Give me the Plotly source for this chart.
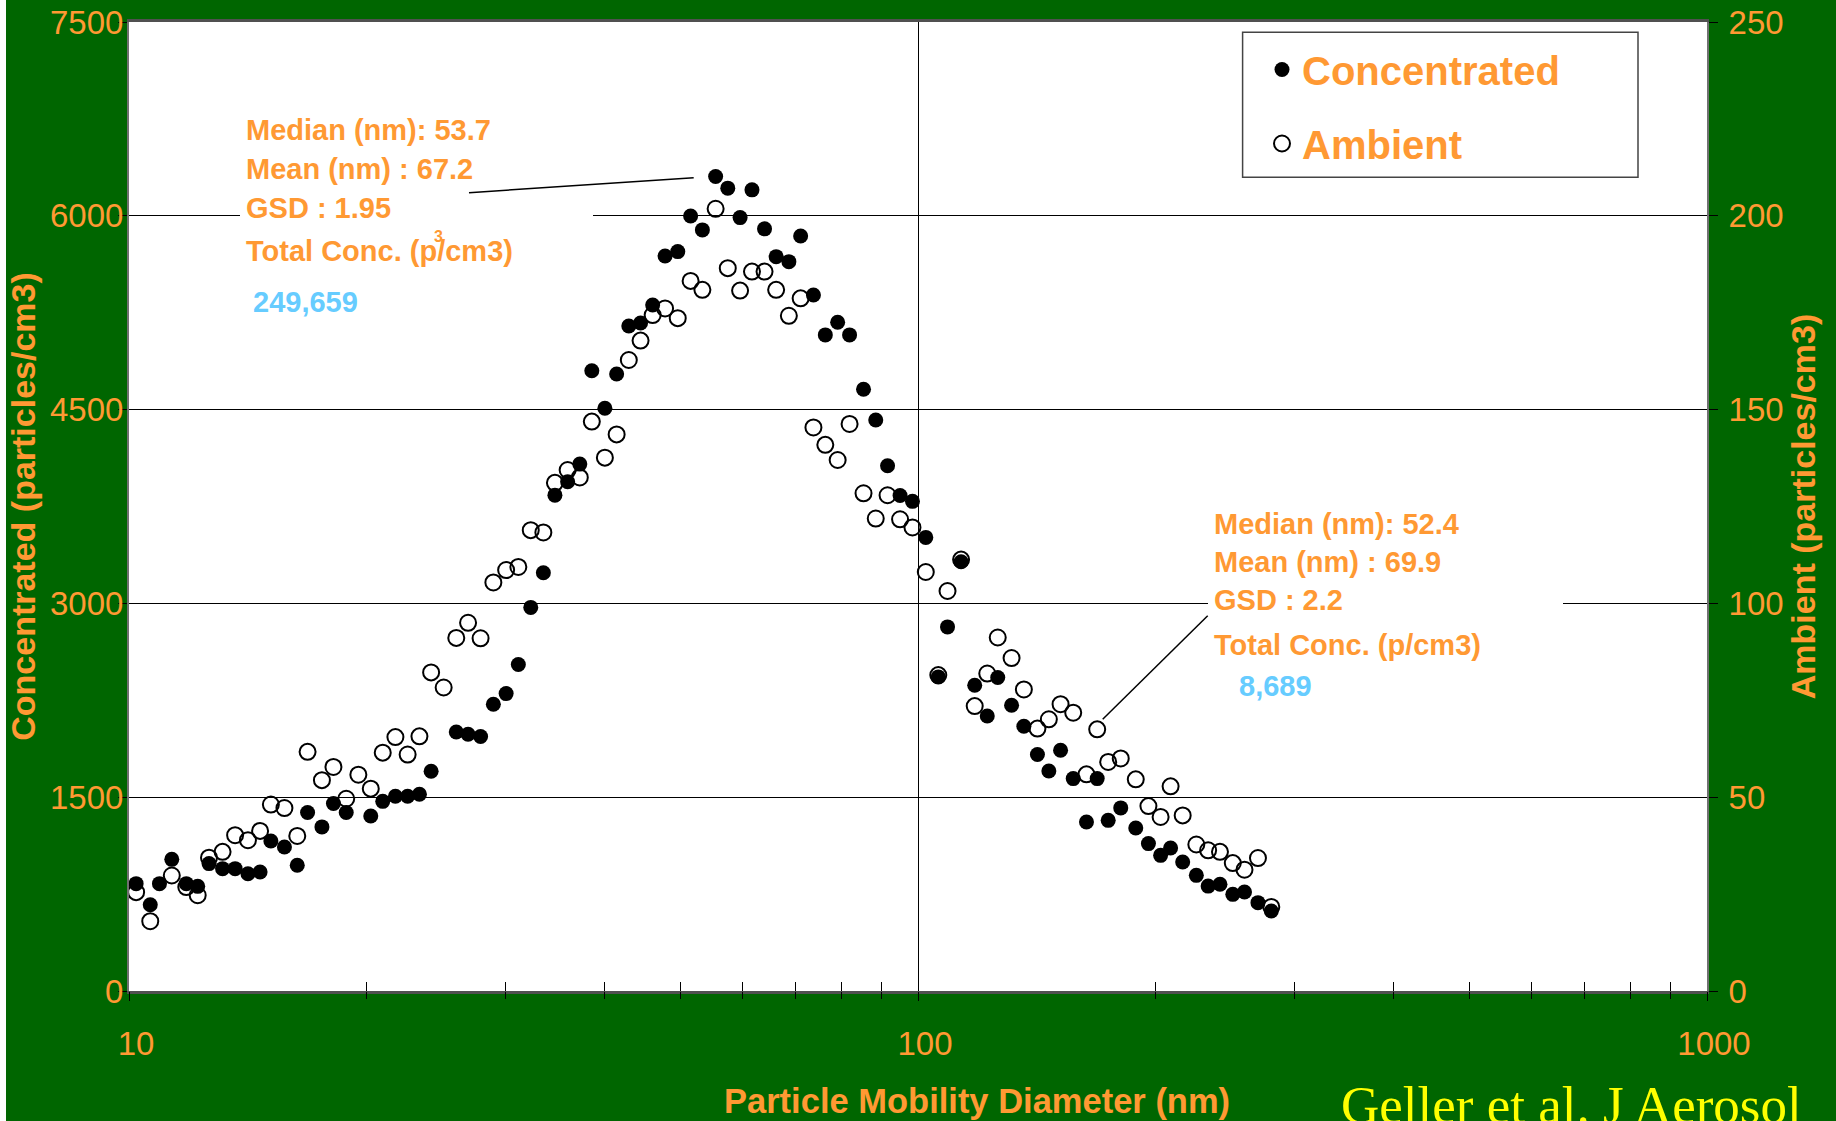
import plotly.graph_objects as go

# ---------------- data ----------------
conc_diam = [10.21, 10.64, 10.93, 11.33, 11.82, 12.22, 12.63, 13.14, 13.63, 14.15,
             14.66, 15.13, 15.74, 16.34, 16.84, 17.56, 18.16, 18.85, 20.25, 20.97,
             21.76, 22.55, 23.34, 24.15, 25.99, 26.9, 27.9, 28.96, 30.06, 31.15,
             32.3, 33.51, 34.66, 35.97, 37.27, 38.6, 40.1, 41.5, 43.0, 44.5,
             46.1, 47.8, 49.6, 51.5, 53.3, 55.4, 57.4, 59.5, 61.6, 63.9,
             66.1, 68.6, 71.0, 73.7, 76.3, 79.1, 81.9, 85.3, 88.4, 91.5,
             94.9, 98.4, 102.3, 106.1, 109.0, 113.4, 118.0, 122.4, 126.2, 131.4,
             136.2, 141.7, 146.5, 151.6, 157.3, 163.5, 168.7, 174.2, 180.7, 188.8,
             195.9, 203.0, 209.0, 216.5, 225.3, 233.2, 241.4, 250.6, 259.3, 269.7,
             280.4]
conc_vals = [831, 668, 831, 1019, 831, 810, 986, 947, 947, 908,
             921, 1161, 1115, 973, 1381, 1270, 1451, 1381, 1355, 1468,
             1507, 1507, 1523, 1701, 2005, 1987, 1970, 2220, 2302, 2527,
             2969, 3237, 3838, 3942, 4078, 4801, 4510, 4776, 5147, 5170,
             5310, 5689, 5723, 5999, 5891, 6304, 6214, 5986, 6201, 5899,
             5684, 5645, 5844, 5387, 5078, 5176, 5078, 4657, 4419, 4065,
             3835, 3790, 3511, 2431, 2818, 3322, 2367, 2129, 2426, 2212,
             2049, 1830, 1703, 1863, 1644, 1308, 1644, 1321, 1417, 1262,
             1141, 1050, 1107, 998, 895, 812, 826, 748, 766, 684,
             619]

amb_diam = [10.21, 10.64, 11.33, 11.82, 12.22, 12.63, 13.14, 13.63, 14.15, 14.66,
            15.13, 15.74, 16.34, 16.84, 17.56, 18.16, 18.85, 19.53, 20.25, 20.97,
            21.76, 22.55, 23.34, 24.15, 25.05, 25.99, 26.9, 27.9, 28.96, 30.06,
            31.15, 32.3, 33.51, 34.66, 35.97, 37.27, 38.6, 40.1, 41.5, 43.0,
            44.5, 46.1, 47.8, 49.6, 51.5, 53.3, 55.4, 57.4, 59.5, 61.6,
            63.9, 66.1, 68.6, 71.0, 73.7, 76.3, 79.1, 81.9, 85.3, 88.4,
            91.5, 94.9, 98.4, 102.3, 106.1, 109.0, 113.4, 118.0, 122.4, 126.2,
            131.4, 136.2, 141.7, 146.5, 151.6, 157.3, 163.5, 168.7, 174.2, 180.7,
            188.8, 195.9, 203.0, 209.0, 216.5, 225.3, 233.2, 241.4, 250.6, 259.3,
            269.7, 280.4]
amb_vals = [25.5, 18.0, 29.8, 26.8, 24.7, 34.4, 35.9, 40.2, 38.9, 41.3,
            48.1, 47.2, 40.0, 61.7, 54.4, 57.8, 49.6, 55.8, 52.2, 61.5,
            65.5, 61.0, 65.7, 82.2, 78.3, 91.1, 95.0, 91.0, 105.4, 108.6,
            109.4, 118.9, 118.3, 131.1, 134.4, 132.5, 146.9, 137.6, 143.6, 162.8,
            167.8, 174.4, 176.1, 173.6, 183.2, 180.9, 201.8, 186.5, 180.7, 185.6,
            185.6, 180.9, 174.2, 178.7, 145.4, 140.9, 137.0, 146.3, 128.4, 121.9,
            127.9, 121.7, 119.6, 108.1, 81.5, 103.2, 111.3, 73.5, 81.9, 91.2,
            85.9, 77.8, 67.7, 70.1, 74.0, 71.8, 55.9, 67.5, 59.1, 60.0,
            54.6, 47.7, 44.9, 52.8, 45.3, 37.8, 36.3, 35.9, 33.0, 31.3,
            34.3, 21.7]

x_tick_vals = [10, 100, 1000]
x_tick_text = ["10", "100", "1000"]
x_minor_vals = [20, 30, 40, 50, 60, 70, 80, 90, 200, 300, 400, 500, 600, 700, 800, 900]
conc_ticks = [0, 1500, 3000, 4500, 6000, 7500]
amb_ticks = [0, 50, 100, 150, 200, 250]

stats_conc = ["Median (nm): 53.7", "Mean (nm) : 67.2", "GSD : 1.95", "Total Conc. (p/cm3)"]
total_conc = "249,659"
stats_amb = ["Median (nm): 52.4", "Mean (nm) : 69.9", "GSD : 2.2", "Total Conc. (p/cm3)"]
total_amb = "8,689"

# ---------------- styling ----------------
ORANGE = "#FF9933"
BLUE = "#66CCFF"
GREEN = "#006600"
YELLOW = "#FFFF00"
FONT = "Liberation Sans, Arial, sans-serif"
SERIF = "Liberation Serif, Times New Roman, serif"

W, H = 1836, 1121
L, R, T, B = 129, 1707, 22, 991


def px(x):
    return (x - L) / (R - L)


def py(y):
    return (B - y) / (B - T)


fig = go.Figure()
fig.add_trace(go.Scatter(
    x=conc_diam, y=conc_vals, mode="markers", name="<b>Concentrated</b>",
    legendgroup="c", yaxis="y",
    marker=dict(symbol="circle", size=15, color="black", line=dict(width=0)),
))
fig.add_trace(go.Scatter(
    x=amb_diam, y=amb_vals, mode="markers", name="<b>Ambient</b>",
    legendgroup="a", yaxis="y2",
    marker=dict(symbol="circle-open", size=16, color="black", line=dict(width=2, color="black")),
))
# helper trace so the outside half of the crossing x ticks is drawn
fig.add_trace(go.Scatter(x=[100], y=[None], xaxis="x2", yaxis="y", mode="markers",
                         showlegend=False, hoverinfo="skip"))

shapes = [
    # legend frame
    dict(type="rect", xref="paper", yref="paper", x0=px(1242.6), x1=px(1638), y0=py(177.3), y1=py(32.3),
         line=dict(color="#444444", width=1.5), fillcolor="white", layer="between"),
    # text boxes hiding gridline segments
    dict(type="rect", xref="paper", yref="paper", x0=px(240), x1=px(593), y0=py(222), y1=py(210),
         line=dict(width=0), fillcolor="white", layer="above"),
    dict(type="rect", xref="paper", yref="paper", x0=px(1208), x1=px(1563), y0=py(609), y1=py(598),
         line=dict(width=0), fillcolor="white", layer="above"),
    # leader lines
    dict(type="line", xref="paper", yref="paper", x0=px(469), y0=py(192.7), x1=px(693.7), y1=py(177.7),
         line=dict(color="black", width=1.5)),
    dict(type="line", xref="paper", yref="paper", x0=px(1207.7), y0=py(615.7), x1=px(1102.7), y1=py(719.3),
         line=dict(color="black", width=1.5)),
    # white strip at the left edge of the slide
    dict(type="rect", xref="paper", yref="paper", x0=px(0), x1=px(6), y0=py(H + 5), y1=py(-5),
         line=dict(width=0), fillcolor="white", layer="above"),
]


def ann(text, x, y, size, color, xanchor="left", yanchor="middle", family=FONT, angle=0):
    return dict(text=text, x=px(x), y=py(y), xref="paper", yref="paper", showarrow=False,
                xanchor=xanchor, yanchor=yanchor, textangle=angle,
                font=dict(family=family, size=size, color=color))


annotations = []
for txt, yy in zip(stats_conc, [130, 169, 207.5, 251]):
    annotations.append(ann("<b>%s</b>" % txt, 244, yy, 29, ORANGE))
annotations.append(ann("<b>3</b>", 432, 237, 16, ORANGE))
annotations.append(ann("<b>%s</b>" % total_conc, 251, 302, 29, BLUE))
for txt, yy in zip(stats_amb, [524, 562, 600.5, 645]):
    annotations.append(ann("<b>%s</b>" % txt, 1212, yy, 29, ORANGE))
annotations.append(ann("<b>%s</b>" % total_amb, 1237, 686, 29, BLUE))
annotations.append(ann("<b>Particle Mobility Diameter (nm)</b>", 977, 1101, 34.5, ORANGE, xanchor="center"))
annotations.append(ann("Geller et al. J Aerosol", 1339, 1074, 53, YELLOW, yanchor="top", family=SERIF))

fig.update_layout(
    width=W, height=H,
    margin=dict(l=L, r=W - R, t=T, b=H - B, autoexpand=False),
    paper_bgcolor=GREEN, plot_bgcolor="white",
    font=dict(family=FONT, color=ORANGE),
    showlegend=True,
    legend=dict(x=px(1262), y=py(37), xanchor="left", yanchor="top",
                font=dict(family=FONT, size=40, color=ORANGE),
                bgcolor="rgba(0,0,0,0)", borderwidth=0, tracegroupgap=19),
    xaxis=dict(type="log", range=[1, 3], tickmode="array", tickvals=x_tick_vals, ticktext=x_tick_text,
               ticks="inside", ticklen=9, tickwidth=1, tickcolor="black",
               minor=dict(tickmode="array", tickvals=x_minor_vals, ticks="inside", ticklen=9,
                          tickwidth=1, tickcolor="black", showgrid=False),
               showgrid=True, gridcolor="black", gridwidth=1.3,
               showline=True, linecolor="#505050", linewidth=2.5, mirror=True, zeroline=False,
               tickfont=dict(family=FONT, size=33, color=ORANGE),
               ticklabelstandoff=22, ticklabelshift=7),
    xaxis2=dict(type="log", range=[1, 3], overlaying="x", anchor="y", side="bottom",
                tickmode="array", tickvals=x_tick_vals, showticklabels=False,
                ticks="outside", ticklen=9, tickwidth=1, tickcolor="black",
                minor=dict(tickmode="array", tickvals=x_minor_vals, ticks="outside", ticklen=7,
                           tickwidth=1, tickcolor="black", showgrid=False),
                showgrid=False, showline=False, zeroline=False),
    yaxis=dict(range=[0, 7500], tickmode="array", tickvals=conc_ticks,
               ticks="outside", ticklen=9, tickwidth=1, tickcolor="black",
               showgrid=True, gridcolor="black", gridwidth=1.2,
               showline=True, linecolor="#707070", linewidth=2, zeroline=False,
               tickfont=dict(family=FONT, size=33, color=ORANGE), ticklabelstandoff=-12,
               title=dict(text="<b>Concentrated (particles/cm3)</b>",
                          font=dict(family=FONT, size=34, color=ORANGE), standoff=4)),
    yaxis2=dict(range=[0, 250], tickmode="array", tickvals=amb_ticks, overlaying="y", side="right",
                anchor="x", ticks="outside", ticklen=9, tickwidth=1, tickcolor="black",
                showgrid=False, showline=True, linecolor="#707070", linewidth=2, zeroline=False,
                tickfont=dict(family=FONT, size=33, color=ORANGE), ticklabelstandoff=4,
                title=dict(text="<b>Ambient (particles/cm3)</b>",
                           font=dict(family=FONT, size=34, color=ORANGE), standoff=6)),
    shapes=shapes,
    annotations=annotations,
)

fig.write_html("out.html", config={"displayModeBar": False},
               post_script="document.body.style.margin='0';document.body.style.overflow='hidden';")
